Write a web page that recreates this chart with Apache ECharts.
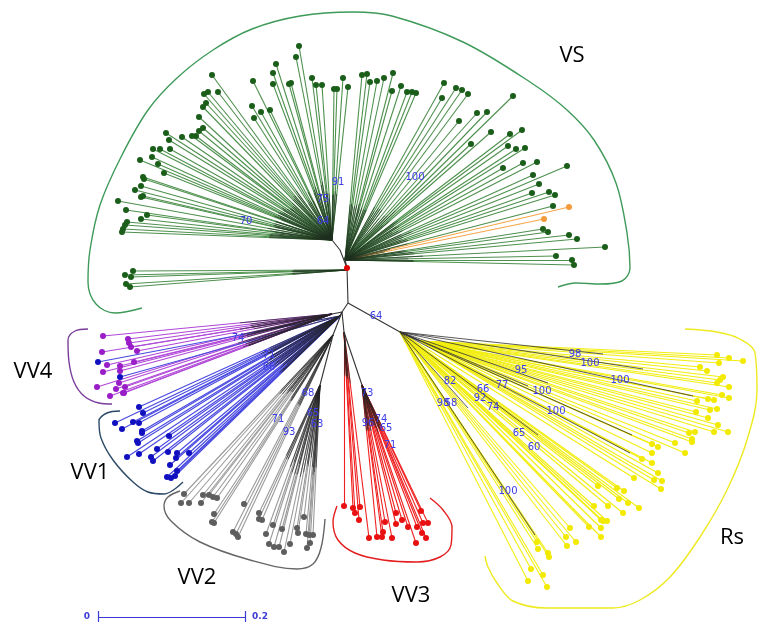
<!DOCTYPE html>
<html><head><meta charset="utf-8">
<script src="https://cdn.jsdelivr.net/npm/echarts@6/dist/echarts.min.js"></script>
<style>html,body{margin:0;padding:0;background:#fff}#c{width:758px;height:624px}</style>
</head><body><div id="c"></div>
<script>
// ---- tree nodes (layout coordinates) ----
const rootNode = [347, 268];
const vsUpperHub = [332, 240];
const vsRightHub = [345, 260];
const vsLowerHub = [347, 270];
const purpleHub = [332, 314];
const blueHub = [340, 316];
const grayHub = [333, 335];
const grayHub2 = [320, 385];
const redHub = [344, 332];
const redHub2 = [362, 385];
const rsHub = [400, 332];
const rsHub2 = [420, 341];
const backbone = [
  [[332,240],[340,250]], [[340,250],[347,268]], [[345,260],[347,268]],
  [[347,268],[348,303]], [[348,303],[342,312]], [[348,303],[400,332]],
  [[400,332],[420,341]], [[342,312],[332,314]], [[342,312],[340,316]],
  [[342,312],[333,335]], [[333,335],[320,385]], [[342,312],[344,332]], [[344,332],[362,385]]
];
// ---- leaves ----
const vsUpperLeaves = [[299,46],[296,57],[276,64],[273,73],[273,84],[253,81],[312,78],[316,85],[322,85],[334,89],[337,89],[343,78],[348,87],[291,83],[289,84],[212,75],[208,92],[204,94],[218,92],[206,103],[203,107],[252,106],[261,112],[270,110],[254,118],[199,117],[203,128],[199,131],[196,136],[192,136],[182,137],[166,133],[169,140],[170,149],[153,149],[160,149],[152,157],[140,160],[158,164],[164,173],[143,177],[144,179],[141,186],[135,190],[141,197],[143,196],[118,201],[126,210],[147,215],[141,219],[127,222],[125,225],[123,229],[122,232]];
const vsRightLeaves = [[362,75],[367,74],[370,82],[377,81],[384,78],[393,73],[392,91],[401,86],[407,92],[412,92],[416,93],[444,83],[456,88],[462,90],[468,94],[442,98],[513,96],[477,113],[487,112],[459,121],[491,132],[510,134],[522,130],[471,144],[508,146],[516,149],[525,148],[503,168],[523,163],[537,162],[567,166],[533,175],[539,184],[532,193],[549,192],[555,195],[553,206],[543,229],[548,232],[569,235],[577,239],[605,247],[556,256],[572,260],[574,265]];
const vsLowerLeaves = [[133,271],[125,275],[131,277],[126,284],[130,287]];
const vsOrangeLeaves = [[569,207],[544,219]];
const vv4Leaves = [[103,336],[128,339],[129,343],[131,347],[137,351],[102,352],[134,362],[120,366],[103,372],[120,371],[119,383],[97,387],[116,389],[125,387],[124,393],[110,396],[123,393],[107,365]];
const vv1Leaves = [[98,362],[120,377],[139,407],[143,413],[115,423],[133,422],[139,423],[122,429],[142,431],[142,433],[169,436],[137,441],[138,443],[157,449],[168,452],[177,453],[189,453],[139,454],[127,457],[151,457],[153,461],[176,458],[170,465],[177,471],[167,477],[171,478],[175,476]];
const vv2LeavesA = [[184,494],[181,503],[189,503],[203,495],[201,503],[209,495],[213,497],[217,498],[214,514],[212,522],[214,523],[233,532],[236,534],[238,537],[244,504]];
const vv2LeavesB = [[259,513],[259,519],[262,520],[273,525],[266,534],[282,529],[304,517],[297,528],[298,533],[306,534],[309,535],[313,535],[269,544],[274,547],[279,547],[290,544],[284,552],[307,548],[310,543]];
const vv3LeavesA = [[344,506],[353,508],[360,507],[355,513],[359,520],[369,538]];
const vv3LeavesB = [[377,537],[382,537],[383,532],[385,522],[392,538],[396,524],[396,513],[402,520],[408,527],[416,543],[417,527],[421,511],[422,533],[423,523],[428,523],[426,538]];
const rsLeavesUpper = [[717,355],[729,358],[743,361],[719,363],[700,367],[707,371],[723,377],[720,380],[717,383],[729,387],[722,395],[729,398],[697,401],[708,399],[714,400],[710,410],[717,409],[696,412],[708,418],[718,425],[714,432],[728,432],[689,433],[695,432],[692,439],[692,442],[652,444],[658,447],[675,443],[685,453],[652,453],[642,459],[652,463],[658,473],[654,480],[662,481],[661,489]];
const rsLeavesLower = [[634,478],[598,486],[617,488],[624,491],[619,499],[628,503],[639,508],[594,506],[608,506],[623,513],[601,520],[607,521],[603,521],[589,527],[601,528],[570,528],[566,537],[576,542],[567,546],[601,537],[537,542],[538,549],[548,553],[549,557],[543,575],[531,569],[528,581],[547,587]];
const rsBlackTips = [[603,354],[643,369],[693,396],[632,435],[630,453],[538,435],[535,535],[528,386],[548,383],[468,408]];
// ---- bootstrap values ----
const bootstrap = [[338,182,'91'],[323,199,'75'],[323,221,'64'],[246,221,'70'],[415,177,'100'],[376,316,'64'],[238,338,'74'],[269,355,'71'],[269,367,'66'],[308,393,'68'],[278,419,'71'],[289,432,'93'],[313,413,'65'],[317,424,'63'],[367,393,'73'],[368,423,'96'],[381,419,'74'],[386,428,'65'],[390,445,'71'],[575,354,'98'],[590,363,'100'],[521,370,'95'],[620,380,'100'],[450,381,'82'],[483,389,'66'],[502,385,'77'],[542,391,'100'],[480,398,'92'],[443,403,'98'],[451,403,'58'],[493,407,'74'],[556,411,'100'],[519,433,'65'],[534,447,'60'],[508,491,'100']];
// ---- clade labels and brackets ----
const cladeNames = [[572,56,'VS'],[33,372,'VV4'],[90,473,'VV1'],[197,578,'VV2'],[411,596,'VV3'],[732,538,'Rs']];
const vsBracket = [[142,308],[115,313],[96,304],[88,282],[90,250],[100,205],[121,157],[148,110],[177,78],[213,50],[252,29],[300,16],[353,12],[392,16],[463,42],[530,82],[567,110],[594,140],[616,183],[627,233],[630,268],[622,281],[600,284],[576,283],[558,287]];
const vv4Bracket = [[88,329],[75,331],[68,340],[69,362],[74,382],[84,396],[99,403],[112,404]];
const vv1Bracket = [[120,411],[107,413],[99,421],[101,438],[113,460],[133,482],[148,492],[164,494],[183,482]];
const vv2Bracket = [[180,491],[168,497],[164,506],[171,521],[200,542],[250,560],[297,569],[313,564],[321,548],[325,519]];
const vv3Bracket = [[337,506],[333,522],[338,540],[355,553],[383,560],[417,562],[440,557],[451,545],[452,527],[443,510],[430,498]];
const rsBracket = [[685,329],[717,332],[740,339],[755,353],[757,390],[747,440],[727,490],[700,537],[670,577],[640,600],[613,608],[547,608],[513,601],[497,583],[488,567],[485,556]];
const scaleBar = {from: 0, to: 0.2, x0: 98, x1: 245, y: 617};

// ---- build ----
function fan(hub, leaves) { return leaves.map(p => ({coords: [hub, p]})); }
function inner(hub, leaves, f) {
  return leaves.map(p => ({coords: [hub, [hub[0] + (p[0]-hub[0])*f, hub[1] + (p[1]-hub[1])*f]]}));
}
function linesSeries(data, color, width, opacity) {
  return {type: 'lines', coordinateSystem: 'cartesian2d', polyline: false, silent: true, z: 2,
    data: data, lineStyle: {color: color, width: width || 1, opacity: opacity == null ? 1 : opacity}};
}
function dots(leaves, color, size) {
  return {type: 'scatter', data: leaves, symbolSize: size || 6, itemStyle: {color: color, opacity: 1}, z: 5, silent: true};
}
function bracket(pts, color) {
  return {type: 'line', data: pts, smooth: 0.35, symbol: 'none', lineStyle: {color: color, width: 1.4}, z: 1, silent: true};
}
function textSeries(data, labelStyle) {
  return {type: 'scatter', data: data, symbolSize: 0, z: 8, silent: true, itemStyle: {opacity: 1},
    label: Object.assign({show: true, position: 'inside', formatter: p => p.data[2], opacity: 1}, labelStyle)};
}
const series = [];
// colored leaf branches
series.push(linesSeries(fan(vsUpperHub, vsUpperLeaves).concat(fan(vsRightHub, vsRightLeaves), fan(vsLowerHub, vsLowerLeaves)), '#4e904e', 1.1));
series.push(linesSeries(fan(vsRightHub, vsOrangeLeaves), '#f5a64a', 1.1));
series.push(linesSeries(fan(purpleHub, vv4Leaves), '#b048d8', 1.1));
series.push(linesSeries(fan(blueHub, vv1Leaves), '#4848e0', 1.1));
series.push(linesSeries(fan(grayHub, vv2LeavesA).concat(fan(grayHub2, vv2LeavesB)), '#9a9a9a', 1.1));
series.push(linesSeries(fan(redHub, vv3LeavesA).concat(fan(redHub2, vv3LeavesB)), '#f02020', 1.1));
series.push(linesSeries(fan(rsHub2, rsLeavesUpper).concat(fan(rsHub, rsLeavesLower)), '#f2ee10', 1.1));
// dark inner parts
series.push(linesSeries(inner(vsUpperHub, vsUpperLeaves, 0.3).concat(inner(vsRightHub, vsRightLeaves, 0.3), inner(vsLowerHub, vsLowerLeaves, 0.25), inner(vsRightHub, vsOrangeLeaves, 0.2)), '#1e2e1e', 0.8, 0.8));
series.push(linesSeries(inner(purpleHub, vv4Leaves, 0.4).concat(inner(blueHub, vv1Leaves, 0.35)), '#222', 0.8, 0.8));
series.push(linesSeries(inner(grayHub, vv2LeavesA, 0.35).concat(inner(grayHub2, vv2LeavesB, 0.55)), '#222', 0.8, 0.8));
series.push(linesSeries(inner(redHub, vv3LeavesA, 0.25).concat(inner(redHub2, vv3LeavesB, 0.3)), '#222', 0.8, 0.8));
series.push(linesSeries(fan(rsHub, rsBlackTips), '#333', 0.9, 0.9));
series.push(linesSeries(backbone.map(c => ({coords: c})), '#333', 1.1));
// leaf dots
series.push(dots(vsUpperLeaves.concat(vsRightLeaves, vsLowerLeaves), '#1a5e1a'));
series.push(dots(vsOrangeLeaves, '#f59a3a'));
series.push(dots(vv4Leaves, '#9a1ec8'));
series.push(dots(vv1Leaves, '#1010c0'));
series.push(dots(vv2LeavesA.concat(vv2LeavesB), '#5e5e5e'));
series.push(dots(vv3LeavesA.concat(vv3LeavesB), '#e81010'));
series.push(dots(rsLeavesUpper.concat(rsLeavesLower), '#f2ea00'));
series.push(dots([rootNode], '#e00000', 6));
// brackets
series.push(bracket(vsBracket, '#3f9a5a'));
series.push(bracket(vv4Bracket, '#7a3c9c'));
series.push(bracket(vv1Bracket, '#2c4a66'));
series.push(bracket(vv2Bracket, '#666666'));
series.push(bracket(vv3Bracket, '#e41e1e'));
series.push(bracket(rsBracket, '#eeea20'));
// bootstrap labels
series.push(textSeries(bootstrap, {color: '#3c3ce8', fontSize: 10, fontFamily: 'DejaVu Sans'}));
// clade names
series.push(textSeries(cladeNames, {color: '#000', fontSize: 22, fontFamily: 'Open Sans'}));
// scale bar
const sb = scaleBar;
series.push(linesSeries([
  {coords: [[sb.x0, sb.y], [sb.x1, sb.y]]},
  {coords: [[sb.x0, sb.y-6], [sb.x0, sb.y+5]]},
  {coords: [[sb.x1, sb.y-6], [sb.x1, sb.y+5]]}
], '#3a3ad8', 1.2));
series.push(textSeries([[sb.x0 - 11, sb.y, String(sb.from)], [sb.x1 + 15, sb.y, String(sb.to)]],
  {color: '#3c3cd8', fontSize: 9, fontWeight: 'bold', fontFamily: 'DejaVu Sans'}));

const chart = echarts.init(document.getElementById('c'), null, {renderer: 'canvas'});
chart.setOption({
  animation: false,
  backgroundColor: '#fff',
  grid: {left: 0, right: 0, top: 0, bottom: 0},
  xAxis: {type: 'value', min: 0, max: 758, show: false},
  yAxis: {type: 'value', min: 0, max: 624, inverse: true, show: false},
  series: series
});
</script></body></html>
